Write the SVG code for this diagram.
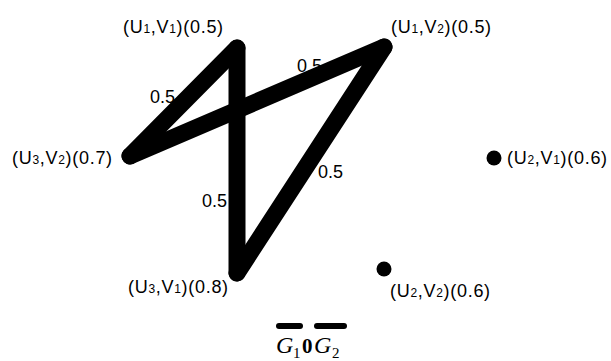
<svg xmlns="http://www.w3.org/2000/svg" width="611" height="361" viewBox="0 0 611 361">
<style>
.lbl{font-family:"Liberation Sans",Arial,sans-serif;font-size:18px;letter-spacing:0.7px;fill:#000}
.s{font-size:12px}
.el{font-family:"Liberation Sans",Arial,sans-serif;font-size:18px;fill:#000}
.edge{stroke:#000;stroke-width:17;stroke-linecap:round;stroke-linejoin:round;fill:none}
.dot{fill:#000}
.g{font-family:"Liberation Serif","Times New Roman",serif;fill:#000}
</style>
<rect width="611" height="361" fill="#fff"/>
<g id="connectors">
<line class="edge" x1="237" y1="48" x2="130" y2="156"/>
<line class="edge" x1="237" y1="48" x2="237" y2="273"/>
<line class="edge" x1="130" y1="156" x2="384" y2="47"/>
<line class="edge" x1="384" y1="47" x2="237" y2="273"/>
</g>
<g id="edge-labels">
<text class="el" x="150" y="103">0.5</text>
<text class="el" x="297" y="72">0.5</text>
<text class="el" x="318" y="178">0.5</text>
<text class="el" x="202" y="207">0.5</text>
</g>
<g id="n-u1v1">
<text class="lbl" x="123" y="33">(U<tspan class="s">1</tspan>,V<tspan class="s">1</tspan>)(0.5)</text>
</g>
<g id="n-u1v2">
<text class="lbl" x="391" y="33">(U<tspan class="s">1</tspan>,V<tspan class="s">2</tspan>)(0.5)</text>
</g>
<g id="n-u3v2">
<text class="lbl" x="12" y="164">(U<tspan class="s">3</tspan>,V<tspan class="s">2</tspan>)(0.7)</text>
</g>
<g id="n-u2v1">
<circle class="dot" cx="494" cy="158" r="7.5"/>
<text class="lbl" x="507" y="164">(U<tspan class="s">2</tspan>,V<tspan class="s">1</tspan>)(0.6)</text>
</g>
<g id="n-u3v1">
<text class="lbl" x="128" y="293">(U<tspan class="s">3</tspan>,V<tspan class="s">1</tspan>)(0.8)</text>
</g>
<g id="n-u2v2">
<circle class="dot" cx="384" cy="269" r="7.5"/>
<text class="lbl" x="390" y="297">(U<tspan class="s">2</tspan>,V<tspan class="s">2</tspan>)(0.6)</text>
</g>
<g id="caption">
<line x1="279" y1="326" x2="300" y2="326" stroke="#000" stroke-width="6" stroke-linecap="round"/>
<line x1="317" y1="326" x2="344" y2="326" stroke="#000" stroke-width="6" stroke-linecap="round"/>
<text class="g" x="276" y="353" font-size="24" font-style="italic">G</text>
<text class="g" x="293" y="358" font-size="15">1</text>
<text class="g" x="302" y="353" font-size="21" font-weight="bold">0</text>
<text class="g" x="314" y="353" font-size="24" font-style="italic">G</text>
<text class="g" x="332" y="358" font-size="15">2</text>
</g>
</svg>
